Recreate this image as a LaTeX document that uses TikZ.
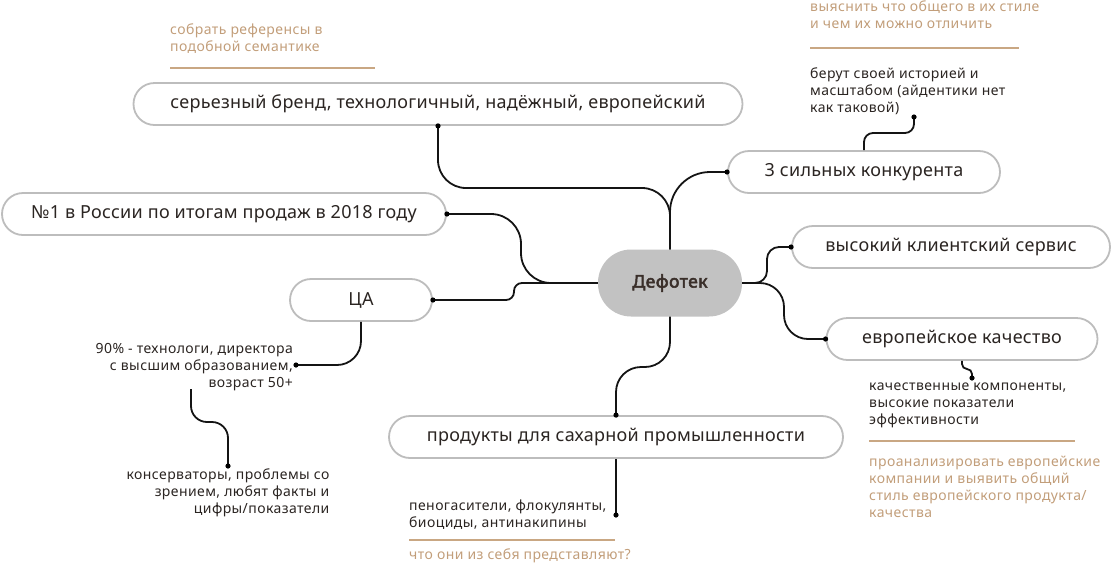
\documentclass[tikz,border=0pt]{standalone}
\usepackage{fontspec}
\setmainfont{Noto Sans}
\newfontfamily\pillfont[LetterSpace=1.5]{Noto Sans}
\newfontfamily\memofont[LetterSpace=3]{Noto Sans}
\newfontfamily\hubfont[FakeBold=3, LetterSpace=2.5]{Noto Sans}
\usepackage{xcolor}
\usepackage{tikz}
\usetikzlibrary{positioning}
\definecolor{inkdark}{HTML}{2B2522}
\definecolor{hubink}{HTML}{3A2F2A}
\definecolor{pillgray}{HTML}{BDBDBD}
\definecolor{hubgray}{HTML}{C2C2C2}
\definecolor{notetan}{HTML}{C29E7A}
\definecolor{ruletan}{HTML}{C9A783}

\begin{document}
\begin{tikzpicture}[
    x=1pt, y=-1pt,
    pill/.style={rectangle, draw=pillgray, line width=1.8pt, fill=white, rounded corners=21pt, minimum height=42pt, inner sep=0pt, font=\pillfont\fontsize{18}{21}\selectfont, text=inkdark},
    hub/.style={rectangle, fill=hubgray, rounded corners=33pt, minimum width=144pt, minimum height=67pt, font=\hubfont\fontsize{17.5}{20}\selectfont, text=hubink},
    memo/.style={inner sep=0pt, font=\memofont\fontsize{14}{17}\selectfont, text=inkdark},
    todo/.style={inner sep=0pt, align=left, font=\memofont\fontsize{14}{17}\selectfont, text=notetan},
    link/.style={draw=black!92, line width=1.8pt},
    rule/.style={draw=ruletan, line width=1.8pt}
]
\useasboundingbox (0,0) rectangle (1114,566);

% Hub
\node[hub] (dfx) at (670,283) {Дефотек};

% Branches
\node[pill, minimum width=609pt] (brand) at (438,104) {серьезный бренд, технологичный, надёжный, европейский};
\node[pill, minimum width=444pt] (rank) at (224,214) {№1 в России по итогам продаж в 2018 году};
\node[pill, minimum width=142pt] (ca) at (361,300) {ЦА};
\node[pill, minimum width=272pt] (konk) at (864,172) {3 сильных конкурента};
\node[pill, minimum width=318pt] (serv) at (951,247) {высокий клиентский сервис};
\node[pill, minimum width=271pt] (evro) at (962,339) {европейское качество};
\node[pill, minimum width=454pt] (prod) at (616,437) {продукты для сахарной промышленности};

% Notes
\node[todo, anchor=north west] (ask0) at (170,24) {собрать референсы в\\подобной семантике};
\node[todo, anchor=north west] (ask1) at (810,1) {выяснить что общего в их стиле\\и чем их можно отличить};
\node[memo, anchor=north west, align=left] (hist) at (810,68) {берут своей историей и\\масштабом (айдентики нет\\как таковой)};
\node[memo, anchor=north west, align=left] (qual) at (869,383) {качественные компоненты,\\высокие показатели\\эффективности};
\node[todo, anchor=north west] (ask2) at (869,456) {проанализировать европейские\\компании и выявить общий\\стиль европейского продукта/\\качества};
\node[memo, anchor=north east, align=right] (aud) at (293,343) {90\% - технологи, директора\\с высшим образованием,\\возраст 50+};
\node[memo, anchor=north, align=right, inner ysep=3pt] (kons) at (228,466) {консерваторы, проблемы со\\зрением, любят факты и\\цифры/показатели};
\node[memo, anchor=west, align=left] (peno) at (409,515) {пеногасители, флокулянты,\\биоциды, антинакипины};
\node[todo, anchor=west] (ask3) at (409,556) {что они из себя представляют?};

% Joints
\coordinate (jb) at (670,188);
\coordinate (jr) at (521,283);
\coordinate (jc) at (514,283);
\coordinate (js) at (767,247);
\coordinate (je) at (784,339);
\coordinate (jp) at (616,367);
\coordinate (jk) at (914,133);
\coordinate (histdot) at (914,117);
\coordinate (jq) at (972,369);
\coordinate (qualdot) at (972,378);
\coordinate (auddot) at (296,365);
\coordinate (audtail) at (191,389);
\coordinate (jt) at (228,422);
\coordinate (penodot) at (616,515);

% Connections
\draw[link, rounded corners=28pt] (brand.south) |- (jb) -- (dfx.north);
\draw[link, rounded corners=40pt] (dfx.north) |- (konk.west);
\draw[link, rounded corners=30pt] (rank.east) -| (jr) -- (dfx.west);
\draw[link, rounded corners=8pt] (ca.east) -| (jc) -- (dfx.west);
\draw[link, rounded corners=12pt] (dfx.east) -| (js) -- (serv.west);
\draw[link, rounded corners=24pt] (dfx.east) -| (je) -- (evro.west);
\draw[link, rounded corners=25pt] (dfx.south) |- (jp) -- (prod.north);
\draw[link, rounded corners=9pt] (konk.north) |- (jk) -- (histdot);
\draw[link, rounded corners=5pt] (evro.south) |- (jq) -- (qualdot);
\draw[link, rounded corners=24pt] (ca.south) |- (auddot);
\draw[link, rounded corners=16pt] (audtail) |- (jt) -- (kons.north);
\draw[link] (prod.south) -- (penodot);
\foreach \p in {brand.south, rank.east, ca.east, konk.west, serv.west, evro.west, prod.north, histdot, qualdot, auddot, kons.north, penodot}
    \fill[black] (\p) circle[radius=2.6pt];

% Rules
\draw[rule] (170,68) -- (375,68);
\draw[rule] (810,48) -- (1019,48);
\draw[rule] (869,441) -- (1075,441);
\draw[rule] (409,540) -- (615,540);

\end{tikzpicture}
\end{document}
